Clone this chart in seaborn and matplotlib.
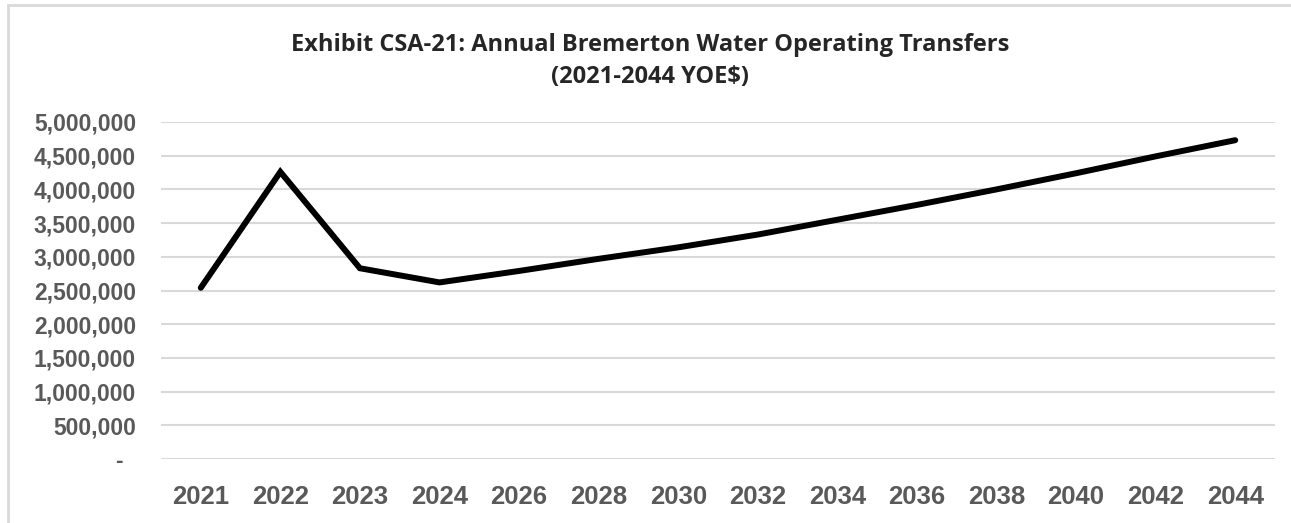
import pandas as pd
import matplotlib.pyplot as plt
import matplotlib.ticker as mticker
from matplotlib.patches import Rectangle
import seaborn as sns

# Values
years = ["2021", "2022", "2023", "2024", "2026", "2028", "2030",
         "2032", "2034", "2036", "2038", "2040", "2042", "2044"]
transfers = [2540000, 4260000, 2830000, 2620000, 2790000, 2970000, 3140000,
             3330000, 3550000, 3770000, 4000000, 4240000, 4490000, 4730000]
y_ticks = list(range(0, 5000001, 500000))

title = "Exhibit CSA-21: Annual Bremerton Water Operating Transfers\n(2021-2044 YOE$)"

df = pd.DataFrame({"year": years, "transfers": transfers})

sns.set_style("white")
plt.rcParams["font.family"] = ["Liberation Sans", "DejaVu Sans"]

fig = plt.figure(figsize=(12.91, 5.23), dpi=100)
W, H = 1291, 523
ax = fig.add_axes([161 / W, 1 - 459 / H, (1275 - 161) / W, (459 - 122) / H])

sns.lineplot(data=df, x="year", y="transfers", ax=ax, color="black",
             linewidth=4.3, solid_capstyle="round", solid_joinstyle="miter",
             sort=False)

ax.set_xlim(-0.5, len(years) - 0.5)
ax.set_ylim(0, 5000000)
ax.set_yticks(y_ticks)
ax.yaxis.set_major_formatter(mticker.FuncFormatter(
    lambda v, p: "-  " if v == 0 else f"{v:,.0f}"))

ax.grid(axis="y", color="#D9D9D9", linewidth=1.5)
ax.set_axisbelow(True)
for s in ax.spines.values():
    s.set_visible(False)

ax.tick_params(axis="y", length=0, pad=18, labelcolor="#595959")
ax.tick_params(axis="x", length=0, pad=19, labelcolor="#595959")
for lbl in ax.get_yticklabels():
    lbl.set_fontweight("bold")
    lbl.set_fontfamily("Liberation Sans")
    lbl.set_fontsize(16.5)
for lbl in ax.get_xticklabels():
    lbl.set_fontweight("bold")
    lbl.set_fontfamily("Liberation Sans")
    lbl.set_fontsize(18.5)

ax.set_xlabel("")
ax.set_ylabel("")

fig.text(650 / W, 1 - 61 / H, title, ha="center", va="center",
         fontsize=17, fontweight="bold", family=["Open Sans", "DejaVu Sans"],
         linespacing=1.4)

# chart frame (cut off at right and bottom like the reference)
fig.patches.append(Rectangle((8 / W, -0.1), 1.2, 1 - 5 / H + 0.1,
                             transform=fig.transFigure, fill=False,
                             edgecolor="#D9D9D9", linewidth=2))

fig.savefig("out.png", dpi=100)
